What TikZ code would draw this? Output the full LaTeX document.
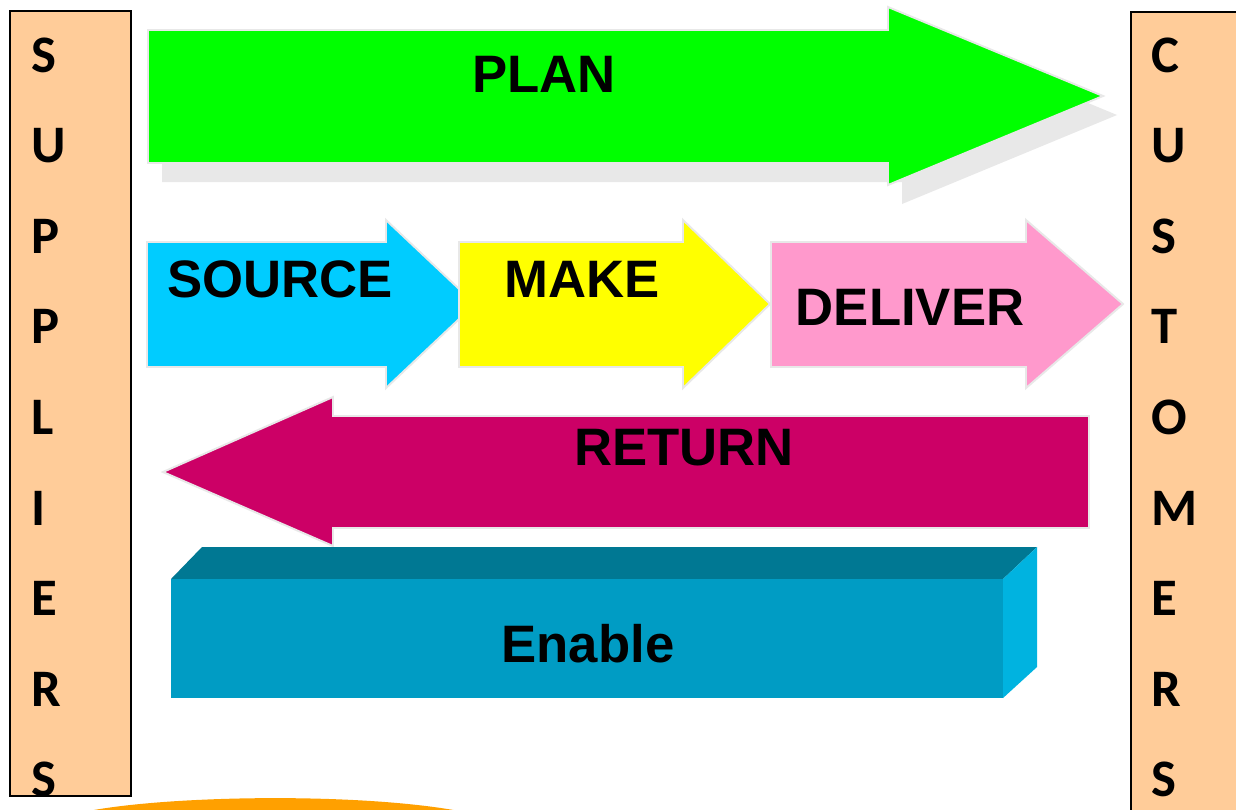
\documentclass[tikz,border=0pt]{standalone}
\usepackage{fontspec}
\setmainfont{Liberation Sans}
\newfontfamily\sidefont{Carlito}
\usetikzlibrary{positioning}
\definecolor{sidebg}{HTML}{FFCC99}
\definecolor{plancol}{HTML}{00FF00}
\definecolor{sourcecol}{HTML}{00CCFF}
\definecolor{makecol}{HTML}{FFFF00}
\definecolor{delivercol}{HTML}{FF99CC}
\definecolor{returncol}{HTML}{CC0066}
\definecolor{enabletop}{HTML}{007893}
\definecolor{enablefront}{HTML}{009CC4}
\definecolor{enableside}{HTML}{00B3E0}
\definecolor{edgegrey}{HTML}{E8E8E8}
\definecolor{arccol}{HTML}{FFA000}
\newcommand{\rarrow}[8]{\filldraw[arrowbody,fill=#1] (#2,#5) -- (#3,#5) -- (#3,#7) -- (#4,{(#7+#8)/2}) -- (#3,#8) -- (#3,#6) -- (#2,#6) -- cycle;}

\begin{document}
\begin{tikzpicture}[x=0.02cm,y=-0.02cm,
  arrowbody/.style={draw=edgegrey,line width=1.1pt,line join=miter},
  lbl/.style={font=\bfseries\fontsize{30}{36}\selectfont,anchor=base,inner sep=0pt},
  letter/.style={font=\sidefont\bfseries\fontsize{30}{36}\selectfont,anchor=base west,inner sep=0pt}]

\clip (0,0) rectangle (1236,809);
\fill[white] (0,0) rectangle (1236,809);

% orange arc at the bottom
\fill[arccol] (70,815) .. controls (150,794) and (380,791) .. (478,815) -- cycle;

% side boxes
\draw[fill=sidebg,line width=1pt] (10,11) rectangle (131,796);
\draw[fill=sidebg,line width=1pt] (1131,12) rectangle (1260,830);
\foreach \l [count=\i] in {S,U,P,P,L,I,E,R,S}
  \node[letter] (sup\i) at (31,{72+90.6*(\i-1)}) {\l};
\foreach \l [count=\i] in {C,U,S,T,O,M,E,R,S}
  \node[letter] (cus\i) at (1151,{72+90.6*(\i-1)}) {\l};

% plan
\begin{scope}[shift={(14,19)}]
\fill[edgegrey] (148,30) -- (888,30) -- (888,7) -- (1103,96) -- (888,185) -- (888,163) -- (148,163) -- cycle;
\end{scope}
\rarrow{plancol}{148}{888}{1103}{30}{163}{7}{185}

% source make deliver
\rarrow{sourcecol}{147}{386}{475}{242}{367}{220}{388}
\rarrow{makecol}{459}{683}{770}{242}{367}{220}{388}
\rarrow{delivercol}{771}{1026}{1123}{242}{367}{220}{388}

% return
\filldraw[arrowbody,fill=returncol] (1089,416) -- (333,416) -- (333,397) -- (163,472) -- (333,546) -- (333,528) -- (1089,528) -- cycle;

% enable
\fill[enabletop] (171,579) -- (202,547) -- (1037,547) -- (1003,579) -- cycle;
\fill[enablefront] (171,579) rectangle (1003,698);
\fill[enableside] (1003,579) -- (1037,547) -- (1037,667) -- (1003,698) -- cycle;

\node[lbl] (plan) at (544,92) {PLAN};
\node[lbl] (source) at (280,297) {SOURCE};
\node[lbl] (make) at (582,297) {MAKE};
\node[lbl] (deliver) at (910,325) {DELIVER};
\node[lbl] (return) at (684,465) {RETURN};
\node[lbl] (enable) at (588,662) {Enable};

\end{tikzpicture}
\end{document}
